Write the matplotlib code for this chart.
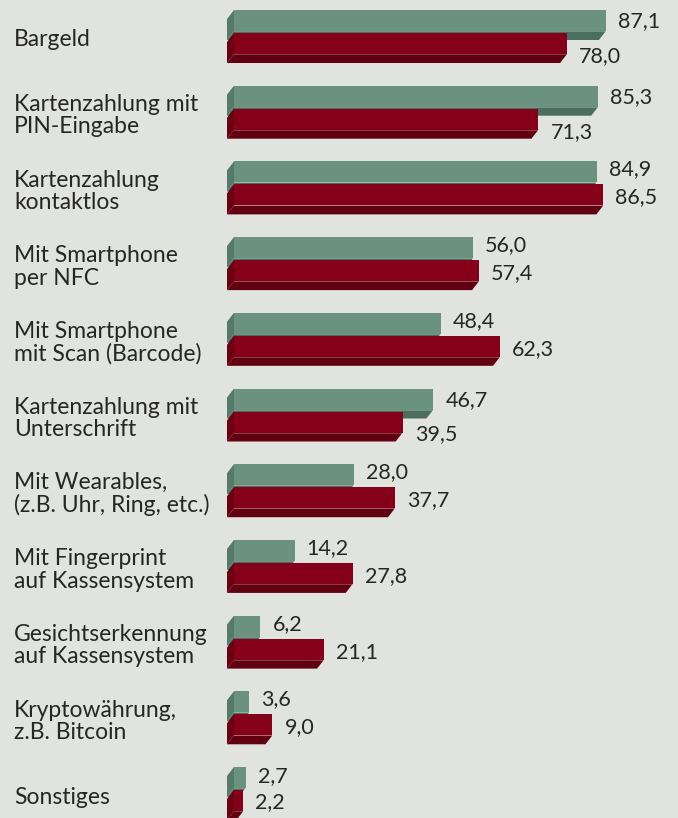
import matplotlib.pyplot as plt
from matplotlib.patches import Polygon

# values
categories = [
    "Bargeld",
    "Kartenzahlung mit\nPIN-Eingabe",
    "Kartenzahlung\nkontaktlos",
    "Mit Smartphone\nper NFC",
    "Mit Smartphone\nmit Scan (Barcode)",
    "Kartenzahlung mit\nUnterschrift",
    "Mit Wearables,\n(z.B. Uhr, Ring, etc.)",
    "Mit Fingerprint\nauf Kassensystem",
    "Gesichtserkennung\nauf Kassensystem",
    "Kryptowährung,\nz.B. Bitcoin",
    "Sonstiges",
]
green_vals = [87.1, 85.3, 84.9, 56.0, 48.4, 46.7, 28.0, 14.2, 6.2, 3.6, 2.7]
red_vals = [78.0, 71.3, 86.5, 57.4, 62.3, 39.5, 37.7, 27.8, 21.1, 9.0, 2.2]

BG = "#e1e3df"
GREEN = ("#6b917f", "#4b6e60", "#557a6a")   # front, bottom, left
RED = ("#850019", "#600010", "#6c0013")

PX_PER_UNIT = 4.27
X0_PX = 234
W, H = 678, 818

fig = plt.figure(figsize=(W / 100, H / 100), dpi=100)
fig.patch.set_facecolor(BG)
ax = fig.add_axes([0, 0, 1, 1])
ax.set_facecolor(BG)
ax.set_xlim(-X0_PX / PX_PER_UNIT, (W - X0_PX) / PX_PER_UNIT)
ax.set_ylim(H, 0)
ax.axis("off")

FONT = "Lato"
TXT = "#262626"
row_step = 75.7
bar_h = 21
dx = -7 / PX_PER_UNIT
dy = 9
pad = 12 / PX_PER_UNIT


def bar3d(top, val, cols):
    front, bottom, left = cols
    bot = top + bar_h
    ax.add_patch(Polygon([(0, top), (0, bot), (dx, bot + dy), (dx, top + dy)],
                         closed=True, fc=left, ec="none"))
    ax.add_patch(Polygon([(0, bot), (val, bot), (val + dx, bot + dy), (dx, bot + dy)],
                         closed=True, fc=bottom, ec="none"))
    ax.add_patch(Polygon([(0, top), (val, top), (val, bot), (0, bot)],
                         closed=True, fc=front, ec="none"))
    ax.plot([0, val], [bot, bot], color="white", alpha=0.25, lw=0.7)


def fmt(v):
    return f"{v:.1f}".replace(".", ",")


for i, (cat, g, r) in enumerate(zip(categories, green_vals, red_vals)):
    gtop = 10 + row_step * i
    rtop = gtop + 23
    bar3d(gtop, g, GREEN)
    bar3d(rtop, r, RED)

    # label offsets: red label drops below its bar when it would sit on the green bar
    if r > g:
        g_off, r_off = 8, 36
    elif r + pad < g:
        g_off, r_off = 11.5, 46
    else:
        g_off, r_off = 9, 35
    ax.text(g + pad, gtop + g_off, fmt(g), fontsize=15.5, family=FONT,
            color=TXT, va="center", ha="left")
    ax.text(r + pad, gtop + r_off, fmt(r), fontsize=15.5, family=FONT,
            color=TXT, va="center", ha="left")
    ax.text(-(X0_PX - 14) / PX_PER_UNIT, gtop + 30, cat, fontsize=16.5,
            family=FONT, color=TXT, va="center", ha="left", linespacing=1.08)

fig.savefig("out.png", dpi=100, facecolor=BG)
